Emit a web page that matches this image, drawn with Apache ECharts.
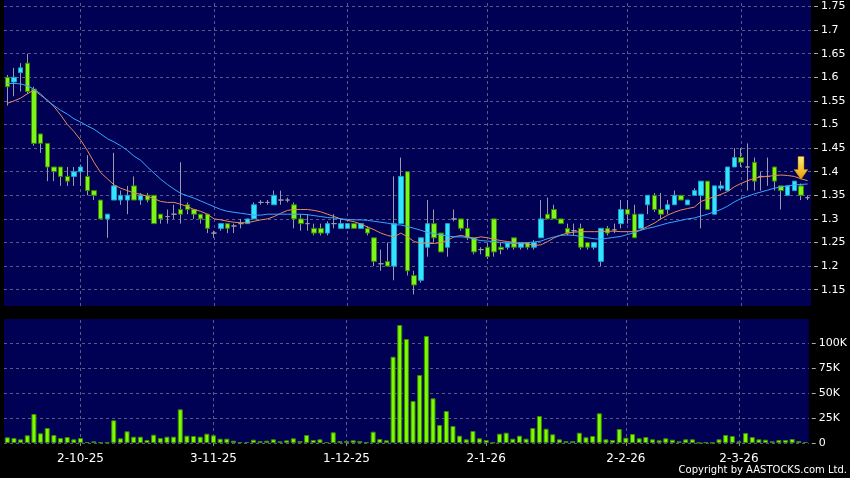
<!DOCTYPE html>
<html>
<head>
<meta charset="utf-8">
<script src="https://cdn.jsdelivr.net/npm/echarts@6/dist/echarts.min.js"></script>
<style>
  html, body { margin: 0; padding: 0; background: #000; }
  #chart { width: 850px; height: 478px; }
</style>
</head>
<body>
<div id="chart"></div>
<script>
// trading days, D-M-YY
var dates = [
  '16-9-25','17-9-25','18-9-25','19-9-25','22-9-25','23-9-25','24-9-25','25-9-25','26-9-25','29-9-25','30-9-25',
  '2-10-25','3-10-25','6-10-25','8-10-25','9-10-25','10-10-25','13-10-25','14-10-25','15-10-25','16-10-25',
  '17-10-25','20-10-25','21-10-25','22-10-25','23-10-25','24-10-25','27-10-25','28-10-25','30-10-25','31-10-25',
  '3-11-25','4-11-25','5-11-25','6-11-25','7-11-25','10-11-25','11-11-25','12-11-25','13-11-25','14-11-25',
  '17-11-25','18-11-25','19-11-25','20-11-25','21-11-25','24-11-25','25-11-25','26-11-25','27-11-25','28-11-25',
  '1-12-25','2-12-25','3-12-25','4-12-25','5-12-25','8-12-25','9-12-25','10-12-25','11-12-25','12-12-25',
  '15-12-25','16-12-25','17-12-25','18-12-25','19-12-25','22-12-25','23-12-25','24-12-25','29-12-25','30-12-25','31-12-25',
  '2-1-26','5-1-26','6-1-26','7-1-26','8-1-26','9-1-26','12-1-26','13-1-26','14-1-26','15-1-26',
  '16-1-26','19-1-26','20-1-26','21-1-26','22-1-26','23-1-26','26-1-26','27-1-26','28-1-26','29-1-26','30-1-26',
  '2-2-26','3-2-26','4-2-26','5-2-26','6-2-26','9-2-26','10-2-26','11-2-26','12-2-26','13-2-26',
  '16-2-26','20-2-26','23-2-26','24-2-26','25-2-26','26-2-26','27-2-26',
  '2-3-26','3-3-26','4-3-26','5-3-26','6-3-26','9-3-26','10-3-26','11-3-26','12-3-26','13-3-26','16-3-26'
];

var opens = [
  1.60,1.59,1.61,1.63,1.575,1.48,1.46,1.41,1.41,1.39,
  1.39,1.40,1.39,1.36,1.34,1.30,1.34,1.34,1.34,1.37,
  1.34,1.35,1.35,1.31,1.305,1.31,1.32,1.33,1.32,1.31,
  1.31,1.27,1.28,1.29,1.285,1.29,1.29,1.30,1.335,1.335,
  1.33,1.34,1.34,1.33,1.30,1.29,1.28,1.28,1.27,1.29,
  1.28,1.28,1.29,1.28,1.28,1.26,1.205,1.21,1.20,1.29,
  1.40,1.18,1.17,1.24,1.29,1.27,1.24,1.30,1.30,1.28,
  1.26,1.235,1.24,1.30,1.24,1.24,1.26,1.24,1.25,1.24,
  1.26,1.31,1.32,1.30,1.28,1.275,1.28,1.25,1.24,1.21,
  1.28,1.277,1.29,1.32,1.31,1.28,1.33,1.35,1.32,1.32,
  1.33,1.35,1.33,1.35,1.35,1.38,1.31,1.365,1.36,1.41,
  1.43,1.41,1.42,1.39,1.39,1.41,1.37,1.35,1.36,1.37,
  1.345
];
var closes = [
  1.58,1.60,1.62,1.57,1.46,1.46,1.41,1.40,1.39,1.38,
  1.40,1.41,1.36,1.35,1.30,1.31,1.37,1.35,1.35,1.34,
  1.35,1.34,1.29,1.30,1.305,1.31,1.31,1.32,1.31,1.30,
  1.28,1.27,1.29,1.28,1.285,1.29,1.30,1.33,1.335,1.335,
  1.35,1.34,1.34,1.30,1.29,1.29,1.27,1.27,1.29,1.29,
  1.29,1.29,1.28,1.29,1.27,1.21,1.205,1.20,1.29,1.39,
  1.19,1.16,1.26,1.29,1.26,1.23,1.29,1.30,1.28,1.26,
  1.23,1.235,1.22,1.23,1.235,1.25,1.24,1.25,1.24,1.25,
  1.30,1.30,1.30,1.29,1.27,1.275,1.24,1.24,1.25,1.28,
  1.27,1.277,1.32,1.31,1.26,1.31,1.35,1.32,1.31,1.33,
  1.35,1.34,1.34,1.36,1.38,1.32,1.37,1.37,1.41,1.43,
  1.42,1.41,1.38,1.39,1.39,1.38,1.36,1.37,1.38,1.35,
  1.345
];
var lows = [
  1.54,1.56,1.57,1.565,1.455,1.44,1.38,1.38,1.37,1.37,
  1.37,1.37,1.35,1.34,1.30,1.26,1.34,1.33,1.31,1.34,
  1.33,1.335,1.29,1.29,1.29,1.30,1.29,1.31,1.30,1.29,
  1.27,1.26,1.275,1.27,1.27,1.28,1.29,1.30,1.33,1.33,
  1.33,1.33,1.335,1.28,1.275,1.275,1.265,1.265,1.265,1.28,
  1.28,1.28,1.28,1.28,1.265,1.20,1.19,1.20,1.17,1.29,
  1.18,1.14,1.165,1.22,1.25,1.23,1.22,1.295,1.275,1.255,
  1.225,1.225,1.215,1.22,1.225,1.235,1.235,1.235,1.235,1.235,
  1.26,1.30,1.30,1.29,1.265,1.265,1.235,1.235,1.235,1.20,
  1.265,1.27,1.28,1.29,1.26,1.28,1.31,1.315,1.30,1.31,
  1.33,1.34,1.33,1.35,1.28,1.32,1.31,1.36,1.36,1.41,
  1.41,1.36,1.36,1.36,1.37,1.36,1.32,1.35,1.36,1.34,
  1.34
];
var highs = [
  1.605,1.62,1.63,1.65,1.58,1.48,1.46,1.41,1.41,1.41,
  1.41,1.415,1.435,1.36,1.34,1.31,1.44,1.36,1.37,1.39,
  1.355,1.355,1.35,1.31,1.32,1.33,1.42,1.335,1.32,1.31,
  1.31,1.275,1.29,1.29,1.29,1.30,1.30,1.335,1.34,1.34,
  1.36,1.36,1.345,1.335,1.31,1.31,1.29,1.29,1.295,1.31,
  1.30,1.29,1.29,1.29,1.285,1.26,1.235,1.25,1.39,1.43,
  1.40,1.19,1.26,1.34,1.32,1.27,1.29,1.32,1.30,1.30,
  1.26,1.24,1.25,1.30,1.25,1.25,1.26,1.25,1.25,1.255,
  1.34,1.345,1.33,1.30,1.29,1.29,1.29,1.25,1.25,1.28,
  1.285,1.29,1.34,1.34,1.33,1.31,1.35,1.355,1.355,1.34,
  1.36,1.35,1.34,1.365,1.38,1.38,1.37,1.38,1.41,1.45,
  1.45,1.46,1.43,1.40,1.43,1.41,1.37,1.37,1.38,1.375,
  1.35
];
var volumes = [
  5700,5000,3700,7700,29000,9700,15000,8000,5000,6000,
  3700,5000,1000,1700,700,700,22700,4700,11700,6300,
  6300,3000,8300,5000,6300,6300,33700,7300,7000,6300,
  9300,7700,4300,4300,2300,1000,1000,3300,2000,2300,
  3700,1700,2700,4700,2000,8000,3000,3700,1000,10700,
  2000,2000,2700,2000,700,11300,4000,2700,86300,118000,
  104000,42000,68000,107000,44700,18000,32000,17000,7300,3700,
  12000,4700,3000,500,9300,10300,4300,7300,4300,15000,
  27000,14300,8700,3700,2000,2000,10300,5700,7000,29700,
  3700,3000,14000,5300,9000,4700,6000,3700,2700,4700,
  3300,1700,3700,3700,300,700,300,3700,8000,7000,
  1700,10000,6000,3700,3300,1700,3000,3000,4000,2000,
  1000
];
// moving averages as drawn (orange short, blue long)
var maShort = [
  1.545,1.55,1.556,1.565,1.573,1.562,1.552,1.538,1.52,1.50,
  1.485,1.467,1.445,1.42,1.398,1.385,1.372,1.365,1.36,1.355,
  1.352,1.348,1.343,1.337,1.335,1.335,1.331,1.326,1.32,1.316,
  1.31,1.30,1.298,1.295,1.293,1.292,1.292,1.295,1.298,1.30,
  1.305,1.312,1.318,1.32,1.32,1.32,1.318,1.315,1.31,1.305,
  1.30,1.297,1.294,1.289,1.283,1.277,1.27,1.265,1.262,1.27,
  1.262,1.252,1.249,1.248,1.248,1.25,1.255,1.262,1.265,1.262,
  1.259,1.262,1.26,1.257,1.254,1.252,1.25,1.248,1.247,1.244,
  1.245,1.252,1.26,1.266,1.27,1.272,1.273,1.273,1.273,1.273,
  1.274,1.274,1.273,1.273,1.273,1.277,1.284,1.291,1.30,1.308,
  1.314,1.319,1.322,1.325,1.337,1.342,1.347,1.352,1.358,1.368,
  1.375,1.381,1.386,1.389,1.39,1.392,1.393,1.392,1.39,1.385,
  1.381
];
var maLong = [
  1.587,1.587,1.586,1.582,1.575,1.565,1.55,1.54,1.53,1.522,
  1.512,1.505,1.497,1.49,1.48,1.47,1.463,1.455,1.445,1.433,
  1.424,1.41,1.397,1.384,1.373,1.363,1.354,1.349,1.344,1.338,
  1.332,1.326,1.32,1.316,1.314,1.312,1.31,1.308,1.308,1.31,
  1.31,1.31,1.31,1.31,1.31,1.309,1.307,1.305,1.303,1.302,
  1.30,1.299,1.298,1.298,1.297,1.295,1.293,1.291,1.288,1.287,
  1.284,1.28,1.276,1.271,1.269,1.266,1.264,1.262,1.262,1.261,
  1.257,1.254,1.253,1.252,1.25,1.248,1.248,1.249,1.25,1.251,
  1.253,1.258,1.262,1.265,1.266,1.265,1.263,1.26,1.258,1.257,
  1.259,1.261,1.263,1.267,1.271,1.276,1.28,1.283,1.287,1.291,
  1.294,1.297,1.30,1.302,1.306,1.31,1.315,1.32,1.327,1.336,
  1.343,1.348,1.353,1.357,1.361,1.365,1.368,1.37,1.372,1.373,
  1.374
];

var tickDates = ['2-10-25', '3-11-25', '1-12-25', '2-1-26', '2-2-26', '2-3-26'];
var priceTicks = [1.15, 1.2, 1.25, 1.3, 1.35, 1.4, 1.45, 1.5, 1.55, 1.6, 1.65, 1.7, 1.75];
var volTicks = [0, 25000, 50000, 75000, 100000];

var navy = '#000054';
var gridCol = '#5a5a88';
var wickCol = '#9a9aaa';

var wickData = [], bodyData = [];
for (var i = 0; i < dates.length; i++) {
  wickData.push([opens[i], closes[i], lows[i], highs[i]]);
  var item = { value: [opens[i], closes[i], Math.min(opens[i], closes[i]), Math.max(opens[i], closes[i])] };
  if (opens[i] === closes[i]) {
    item.itemStyle = { borderColor: wickCol, borderColor0: wickCol, color: wickCol, color0: wickCol };
  }
  bodyData.push(item);
}

function isTick(idx, val) { return tickDates.indexOf(val) >= 0; }

var vLines = {
  silent: true, symbol: 'none', z: 1, animation: false,
  label: { show: false },
  lineStyle: { color: gridCol, type: [3, 3], width: 1 },
  data: tickDates.map(function (d) { return { xAxis: d }; })
};

var myChart = echarts.init(document.getElementById('chart'));
var option = {
  backgroundColor: '#000',
  animation: false,
  textStyle: { fontFamily: 'DejaVu Sans' },
  grid: [
    { left: 4, right: 39, top: 0, height: 306, show: true, backgroundColor: navy, borderWidth: 0 },
    { left: 4, right: 39, top: 319, height: 124, show: true, backgroundColor: navy, borderWidth: 0 }
  ],
  xAxis: [{
    type: 'category', gridIndex: 0, data: dates, boundaryGap: true,
    axisLine: { show: false }, axisTick: { show: false }, axisLabel: { show: false }, splitLine: { show: false }
  }, {
    type: 'category', gridIndex: 1, data: dates, boundaryGap: true, offset: 3,
    axisLine: { show: false },
    axisTick: { show: true, alignWithLabel: true, length: 3, interval: isTick, lineStyle: { color: '#888' } },
    axisLabel: { interval: isTick, color: '#fff', fontSize: 12, margin: 7, fontFamily: 'DejaVu Sans' },
    splitLine: { show: false }
  }],
  yAxis: [{
    type: 'value', gridIndex: 0, position: 'right', min: 1.1155, max: 1.7638, offset: 3,
    axisLine: { show: false },
    axisTick: { show: true, length: 4, customValues: priceTicks, lineStyle: { color: '#aaa' } },
    axisLabel: {
      customValues: priceTicks, color: '#fff', fontSize: 11, margin: 7, fontFamily: 'DejaVu Sans',
      formatter: function (v) { return String(Math.round(v * 100) / 100); }
    },
    splitLine: { show: true, lineStyle: { color: gridCol, type: [3, 3], width: 1 } }
  }, {
    type: 'value', gridIndex: 1, position: 'right', min: 0, max: 124000, offset: 3,
    axisLine: { show: false },
    axisTick: { show: true, length: 4, customValues: volTicks, lineStyle: { color: '#aaa' } },
    axisLabel: {
      customValues: volTicks, color: '#fff', fontSize: 11, margin: 7, fontFamily: 'DejaVu Sans',
      formatter: function (v) { return v === 0 ? '0' : (v / 1000) + 'K'; }
    },
    splitLine: { show: true, lineStyle: { color: gridCol, type: [3, 3], width: 1 } }
  }],
  series: [{
    name: 'wick', type: 'candlestick', xAxisIndex: 0, yAxisIndex: 0,
    data: wickData, barWidth: 1, z: 2,
    itemStyle: { color: wickCol, color0: wickCol, borderColor: wickCol, borderColor0: wickCol, borderWidth: 1 },
    markLine: vLines
  }, {
    name: 'body', type: 'candlestick', xAxisIndex: 0, yAxisIndex: 0,
    data: bodyData, barWidth: 5, z: 3,
    itemStyle: { color: '#33e4ff', color0: '#7cf51a', borderColor: '#1aa0c8', borderColor0: '#3a8200', borderWidth: 1 },
    markPoint: {
      symbol: 'path://M4,0 L10,0 L10,13 L14,13 L7,23 L0,13 L4,13 Z',
      symbolSize: [14, 23],
      label: { show: false },
      itemStyle: {
        color: new echarts.graphic.LinearGradient(0, 0, 0, 1, [
          { offset: 0, color: '#fff07a' }, { offset: 1, color: '#e89a00' }
        ]),
        borderColor: '#b07000', borderWidth: 0.5
      },
      data: [{ coord: [dates[119], 1.408] }]
    }
  }, {
    name: 'maShort', type: 'line', xAxisIndex: 0, yAxisIndex: 0, data: maShort,
    showSymbol: false, z: 4, lineStyle: { color: '#e88a58', width: 1 }
  }, {
    name: 'maLong', type: 'line', xAxisIndex: 0, yAxisIndex: 0, data: maLong,
    showSymbol: false, z: 4, lineStyle: { color: '#3aa6ff', width: 1 }
  }, {
    name: 'volume', type: 'bar', xAxisIndex: 1, yAxisIndex: 1, data: volumes, barWidth: 5,
    itemStyle: { color: '#7cfc00', borderColor: '#3d8a00', borderWidth: 1 },
    markLine: vLines
  }],
  graphic: [{
    type: 'text', right: 3, top: 465,
    style: { text: 'Copyright by AASTOCKS.com Ltd.', fill: '#fff', font: '10px DejaVu Sans' }
  }]
};
myChart.setOption(option);
</script>
</body>
</html>
